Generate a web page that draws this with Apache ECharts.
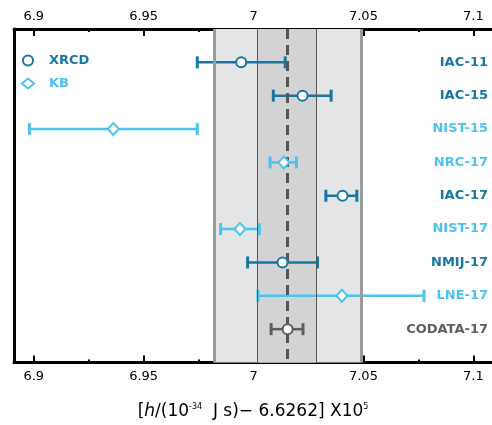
<!DOCTYPE html>
<html>
<head>
<meta charset="utf-8">
<script src="https://cdn.jsdelivr.net/npm/echarts@6/dist/echarts.min.js"></script>
<style>
  html, body { margin: 0; padding: 0; background: #fff; }
  #main { width: 492px; height: 425px; }
</style>
</head>
<body>
<div id="main"></div>
<script>
// rows, top to bottom
var names = ['IAC-11', 'IAC-15', 'NIST-15', 'NRC-17', 'IAC-17', 'NIST-17', 'NMIJ-17', 'LNE-17', 'CODATA-17'];
var methods = ['XRCD', 'XRCD', 'KB', 'KB', 'XRCD', 'KB', 'XRCD', 'KB', 'CODATA'];
var values = [6.9944, 7.0223, 6.9362, 7.0138, 7.0405, 6.9938, 7.0132, 7.0402, 7.0155];
var lows = [6.9744, 7.0090, 6.8980, 7.0075, 7.0329, 6.9850, 6.9973, 7.0020, 7.0080];
var highs = [7.0144, 7.0353, 6.9744, 7.0195, 7.0470, 7.0026, 7.0291, 7.0776, 7.0225];

var codataCenter = 7.0152;
var innerBand = [7.0019, 7.0285];
var outerBand = [6.9821, 7.0490];

var majorTicks = [6.9, 6.95, 7, 7.05, 7.1];
var minorTicks = [6.925, 6.975, 7.025, 7.075];

var colors = { XRCD: '#1777a3', KB: '#49c3ef', CODATA: '#5e5e5e' };

var chartDom = document.getElementById('main');
var myChart = echarts.init(chartDom);

var rowIdx = names.map((n, i) => i + 1);

function pointsFor(m) {
  return values
    .map((v, i) => (methods[i] === m ? [v, i + 1] : null))
    .filter((d) => d);
}

function xAx(pos, ticks, len, label) {
  return {
    type: 'value',
    position: pos,
    min: 6.891,
    max: 7.1085,
    axisLine: { show: label, onZero: false, lineStyle: { color: '#000', width: 3 } },
    axisTick: {
      show: true,
      inside: true,
      length: len,
      customValues: ticks,
      lineStyle: { color: '#000', width: 2 },
    },
    axisLabel: {
      show: label,
      customValues: ticks,
      margin: pos === 'top' ? 6 : 8,
      color: '#000',
      fontFamily: 'DejaVu Sans',
      fontSize: 13,
    },
    splitLine: { show: false },
  };
}

var xAxes = [
  xAx('bottom', majorTicks, 7, true),
  xAx('top', majorTicks, 7, true),
  xAx('bottom', minorTicks, 3, false),
  xAx('top', minorTicks, 3, false),
];
xAxes[0].name = '[{i|h}/(10{sup|-34}  J s)\u2212 6.6262] X10{sup|5}';
xAxes[0].nameLocation = 'middle';
xAxes[0].nameGap = 40;
xAxes[0].nameTextStyle = {
  color: '#000',
  fontFamily: 'DejaVu Sans',
  fontSize: 17,
  rich: {
    i: { fontStyle: 'italic', fontFamily: 'DejaVu Sans', fontSize: 17 },
    sup: { fontFamily: 'DejaVu Sans', fontSize: 8, verticalAlign: 'top', padding: [0, 0, 10, 0] },
  },
};

var labelRich = {};
Object.keys(colors).forEach((k) => {
  labelRich[k] = {
    color: colors[k],
    fontFamily: 'DejaVu Sans',
    fontWeight: 'bold',
    fontSize: 13,
  };
});

var option = {
  animation: false,
  backgroundColor: '#fff',
  grid: { left: 14, right: 0, top: 29, bottom: 61 },
  legend: {
    orient: 'vertical',
    left: 16,
    top: 49,
    itemGap: 10,
    itemWidth: 12,
    itemHeight: 10,
    data: [
      { name: 'XRCD', textStyle: { color: colors.XRCD } },
      { name: 'KB', textStyle: { color: colors.KB } },
    ],
    textStyle: { fontFamily: 'DejaVu Sans', fontWeight: 'bold', fontSize: 13, padding: [0, 0, 0, 10] },
  },
  xAxis: xAxes,
  yAxis: [
    {
      type: 'value',
      min: 0,
      max: 10,
      inverse: true,
      position: 'left',
      axisLine: { show: true, lineStyle: { color: '#000', width: 3 } },
      axisTick: { show: false },
      axisLabel: { show: false },
      splitLine: { show: false },
    },
    {
      type: 'value',
      min: 0,
      max: 10,
      inverse: true,
      position: 'right',
      axisLine: { show: false },
      axisTick: { show: false },
      splitLine: { show: false },
      axisLabel: {
        inside: true,
        margin: 4,
        customValues: rowIdx,
        formatter: (v) => '{' + methods[v - 1] + '|' + names[v - 1] + '}',
        rich: labelRich,
      },
    },
  ],
  series: [
    {
      name: 'bands',
      type: 'scatter',
      z: 1,
      data: [],
      markArea: {
        silent: true,
        data: [
          [{ xAxis: outerBand[0], itemStyle: { color: '#e4e5e7' } }, { xAxis: outerBand[1] }],
          [{ xAxis: innerBand[0], itemStyle: { color: '#d2d3d5' } }, { xAxis: innerBand[1] }],
        ],
      },
      markLine: {
        silent: true,
        symbol: 'none',
        precision: 5,
        label: { show: false },
        data: [
          { xAxis: outerBand[0], lineStyle: { color: '#9b9b9b', width: 3, type: 'solid' } },
          { xAxis: outerBand[1], lineStyle: { color: '#9b9b9b', width: 3, type: 'solid' } },
          { xAxis: innerBand[0], lineStyle: { color: '#555', width: 1, type: 'solid' } },
          { xAxis: innerBand[1], lineStyle: { color: '#555', width: 1, type: 'solid' } },
          { xAxis: codataCenter, lineStyle: { color: '#555', width: 3, type: [10, 6] } },
        ],
      },
    },
    {
      name: 'bars',
      type: 'custom',
      z: 3,
      renderItem: function (params, api) {
        var y = api.value(0);
        var p1 = api.coord([api.value(1), y]);
        var p2 = api.coord([api.value(2), y]);
        var c = colors[methods[params.dataIndex]];
        var h = 6;
        return {
          type: 'group',
          children: [
            { type: 'line', shape: { x1: p1[0], y1: p1[1], x2: p2[0], y2: p2[1] }, style: { stroke: c, lineWidth: 2.5 } },
            { type: 'line', shape: { x1: p1[0], y1: p1[1] - h, x2: p1[0], y2: p1[1] + h }, style: { stroke: c, lineWidth: 3 } },
            { type: 'line', shape: { x1: p2[0], y1: p2[1] - h, x2: p2[0], y2: p2[1] + h }, style: { stroke: c, lineWidth: 3 } },
          ],
        };
      },
      encode: { x: [1, 2], y: 0 },
      data: rowIdx.map((r, i) => [r, lows[i], highs[i]]),
    },
  ].concat(
    ['XRCD', 'KB', 'CODATA'].map((m) => ({
      name: m,
      type: 'scatter',
      z: 5,
      symbol: m === 'KB' ? 'diamond' : 'circle',
      symbolSize: m === 'KB' ? [11, 12] : 10,
      itemStyle: { color: '#fff', borderColor: colors[m], borderWidth: 2, opacity: 1 },
      data: pointsFor(m),
    }))
  ),
};

option && myChart.setOption(option);

window.onresize = function () {
  myChart.resize();
};
</script>
</body>
</html>
